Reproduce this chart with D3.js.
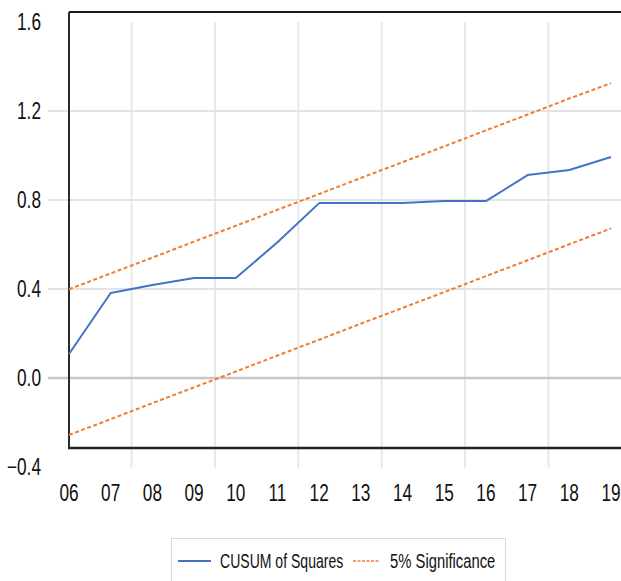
<!DOCTYPE html>
<html>
<head>
<meta charset="utf-8">
<script src="https://cdn.jsdelivr.net/npm/d3@7"></script>
<style>
  html, body { margin: 0; padding: 0; background: #fff; }
  svg { display: block; }
  text { font-family: "Liberation Sans", Arial, sans-serif; fill: #111; }
</style>
</head>
<body>
<svg id="chart" width="621" height="581"></svg>
<script>
// Years on the horizontal axis
const years = ["06","07","08","09","10","11","12","13","14","15","16","17","18","19"];
// CUSUM of squares statistic
const cusumSq = [0.108, 0.382, 0.418, 0.449, 0.449, 0.610, 0.786, 0.786, 0.786, 0.795, 0.795, 0.912, 0.935, 0.993];
// 5% significance bounds
const upperBound = [0.399, 0.470, 0.541, 0.613, 0.684, 0.756, 0.827, 0.899, 0.970, 1.041, 1.113, 1.184, 1.256, 1.325];
const lowerBound = [-0.256, -0.185, -0.113, -0.042, 0.029, 0.101, 0.172, 0.244, 0.315, 0.386, 0.458, 0.529, 0.601, 0.672];
// Value axis ticks
const yTicks = [-0.4, 0.0, 0.4, 0.8, 1.2, 1.6];

const svg = d3.select("#chart");

const x = d3.scalePoint().domain(years).range([69, 611]);
const y = d3.scaleLinear().domain([-0.4, 1.6]).range([467, 22]);

const frameTop = 12, frameBottom = 448, frameLeft = 69, frameRight = 621;
const squeeze = 0.75;   // condensed lettering

// Vertical gridlines between every second pair of years
const vGrid = [];
for (let i = 1; i + 1 < years.length; i += 2) {
  vGrid.push((x(years[i]) + x(years[i + 1])) / 2);
}
svg.append("g").selectAll("line").data(vGrid).join("line")
  .attr("x1", d => d).attr("x2", d => d)
  .attr("y1", y(1.6)).attr("y2", y(-0.4) + 1)
  .attr("stroke", "#e8e8e8").attr("stroke-width", 2);

// Horizontal gridlines
svg.append("g").selectAll("line").data(yTicks.filter(t => t > -0.4 && t < 1.6)).join("line")
  .attr("x1", 48).attr("x2", frameRight)
  .attr("y1", d => y(d)).attr("y2", d => y(d))
  .attr("stroke", d => d === 0 ? "#c6c6c6" : "#e3e3e3")
  .attr("stroke-width", d => d === 0 ? 2.6 : 2);

// Frame lines
svg.append("line").attr("x1", frameLeft).attr("x2", frameRight)
  .attr("y1", frameTop).attr("y2", frameTop)
  .attr("stroke", "#1a1a1a").attr("stroke-width", 2);
svg.append("line").attr("x1", frameLeft).attr("x2", frameLeft)
  .attr("y1", frameTop).attr("y2", frameBottom)
  .attr("stroke", "#2a2a2a").attr("stroke-width", 2);
svg.append("line").attr("x1", frameLeft - 1).attr("x2", frameRight)
  .attr("y1", frameBottom).attr("y2", frameBottom)
  .attr("stroke", "#222").attr("stroke-width", 2.5);

// Y tick labels
svg.append("g").selectAll("g").data(yTicks).join("g")
  .attr("transform", d => `translate(41,${y(d)}) scale(${squeeze},1)`)
  .append("text")
  .attr("dy", "0.36em")
  .attr("text-anchor", "end")
  .attr("font-size", 23)
  .text(d => d3.format(".1f")(d));

// X tick labels
svg.append("g").selectAll("g").data(years).join("g")
  .attr("transform", d => `translate(${x(d)},501) scale(${squeeze},1)`)
  .append("text")
  .attr("text-anchor", "middle")
  .attr("font-size", 23)
  .text(d => d);

// Series
const line = vals => d3.line().x((d, i) => x(years[i])).y(d => y(d))(vals);

svg.append("path").attr("d", line(upperBound))
  .attr("fill", "none").attr("stroke", "#ED7D31").attr("stroke-width", 2)
  .attr("stroke-dasharray", "4,2.5");
svg.append("path").attr("d", line(lowerBound))
  .attr("fill", "none").attr("stroke", "#ED7D31").attr("stroke-width", 2)
  .attr("stroke-dasharray", "4,2.5");
svg.append("path").attr("d", line(cusumSq))
  .attr("fill", "none").attr("stroke", "#4472C4").attr("stroke-width", 2)
  .attr("stroke-linejoin", "round");

// Legend
const lg = svg.append("g");
lg.append("rect").attr("x", 171.5).attr("y", 538.5).attr("width", 334).attr("height", 60)
  .attr("fill", "#fff").attr("stroke", "#dadada").attr("stroke-width", 1);
lg.append("line").attr("x1", 178).attr("x2", 211).attr("y1", 561).attr("y2", 561)
  .attr("stroke", "#4472C4").attr("stroke-width", 2);
lg.append("g").attr("transform", "translate(220,568) scale(0.72,1)")
  .append("text").attr("font-size", 19.5).text("CUSUM of Squares");
lg.append("line").attr("x1", 353).attr("x2", 379).attr("y1", 561).attr("y2", 561)
  .attr("stroke", "#ED7D31").attr("stroke-width", 1.6).attr("stroke-dasharray", "3,1.5");
lg.append("g").attr("transform", "translate(390,568) scale(0.76,1)")
  .append("text").attr("font-size", 19.5).text("5% Significance");
</script>
</body>
</html>
